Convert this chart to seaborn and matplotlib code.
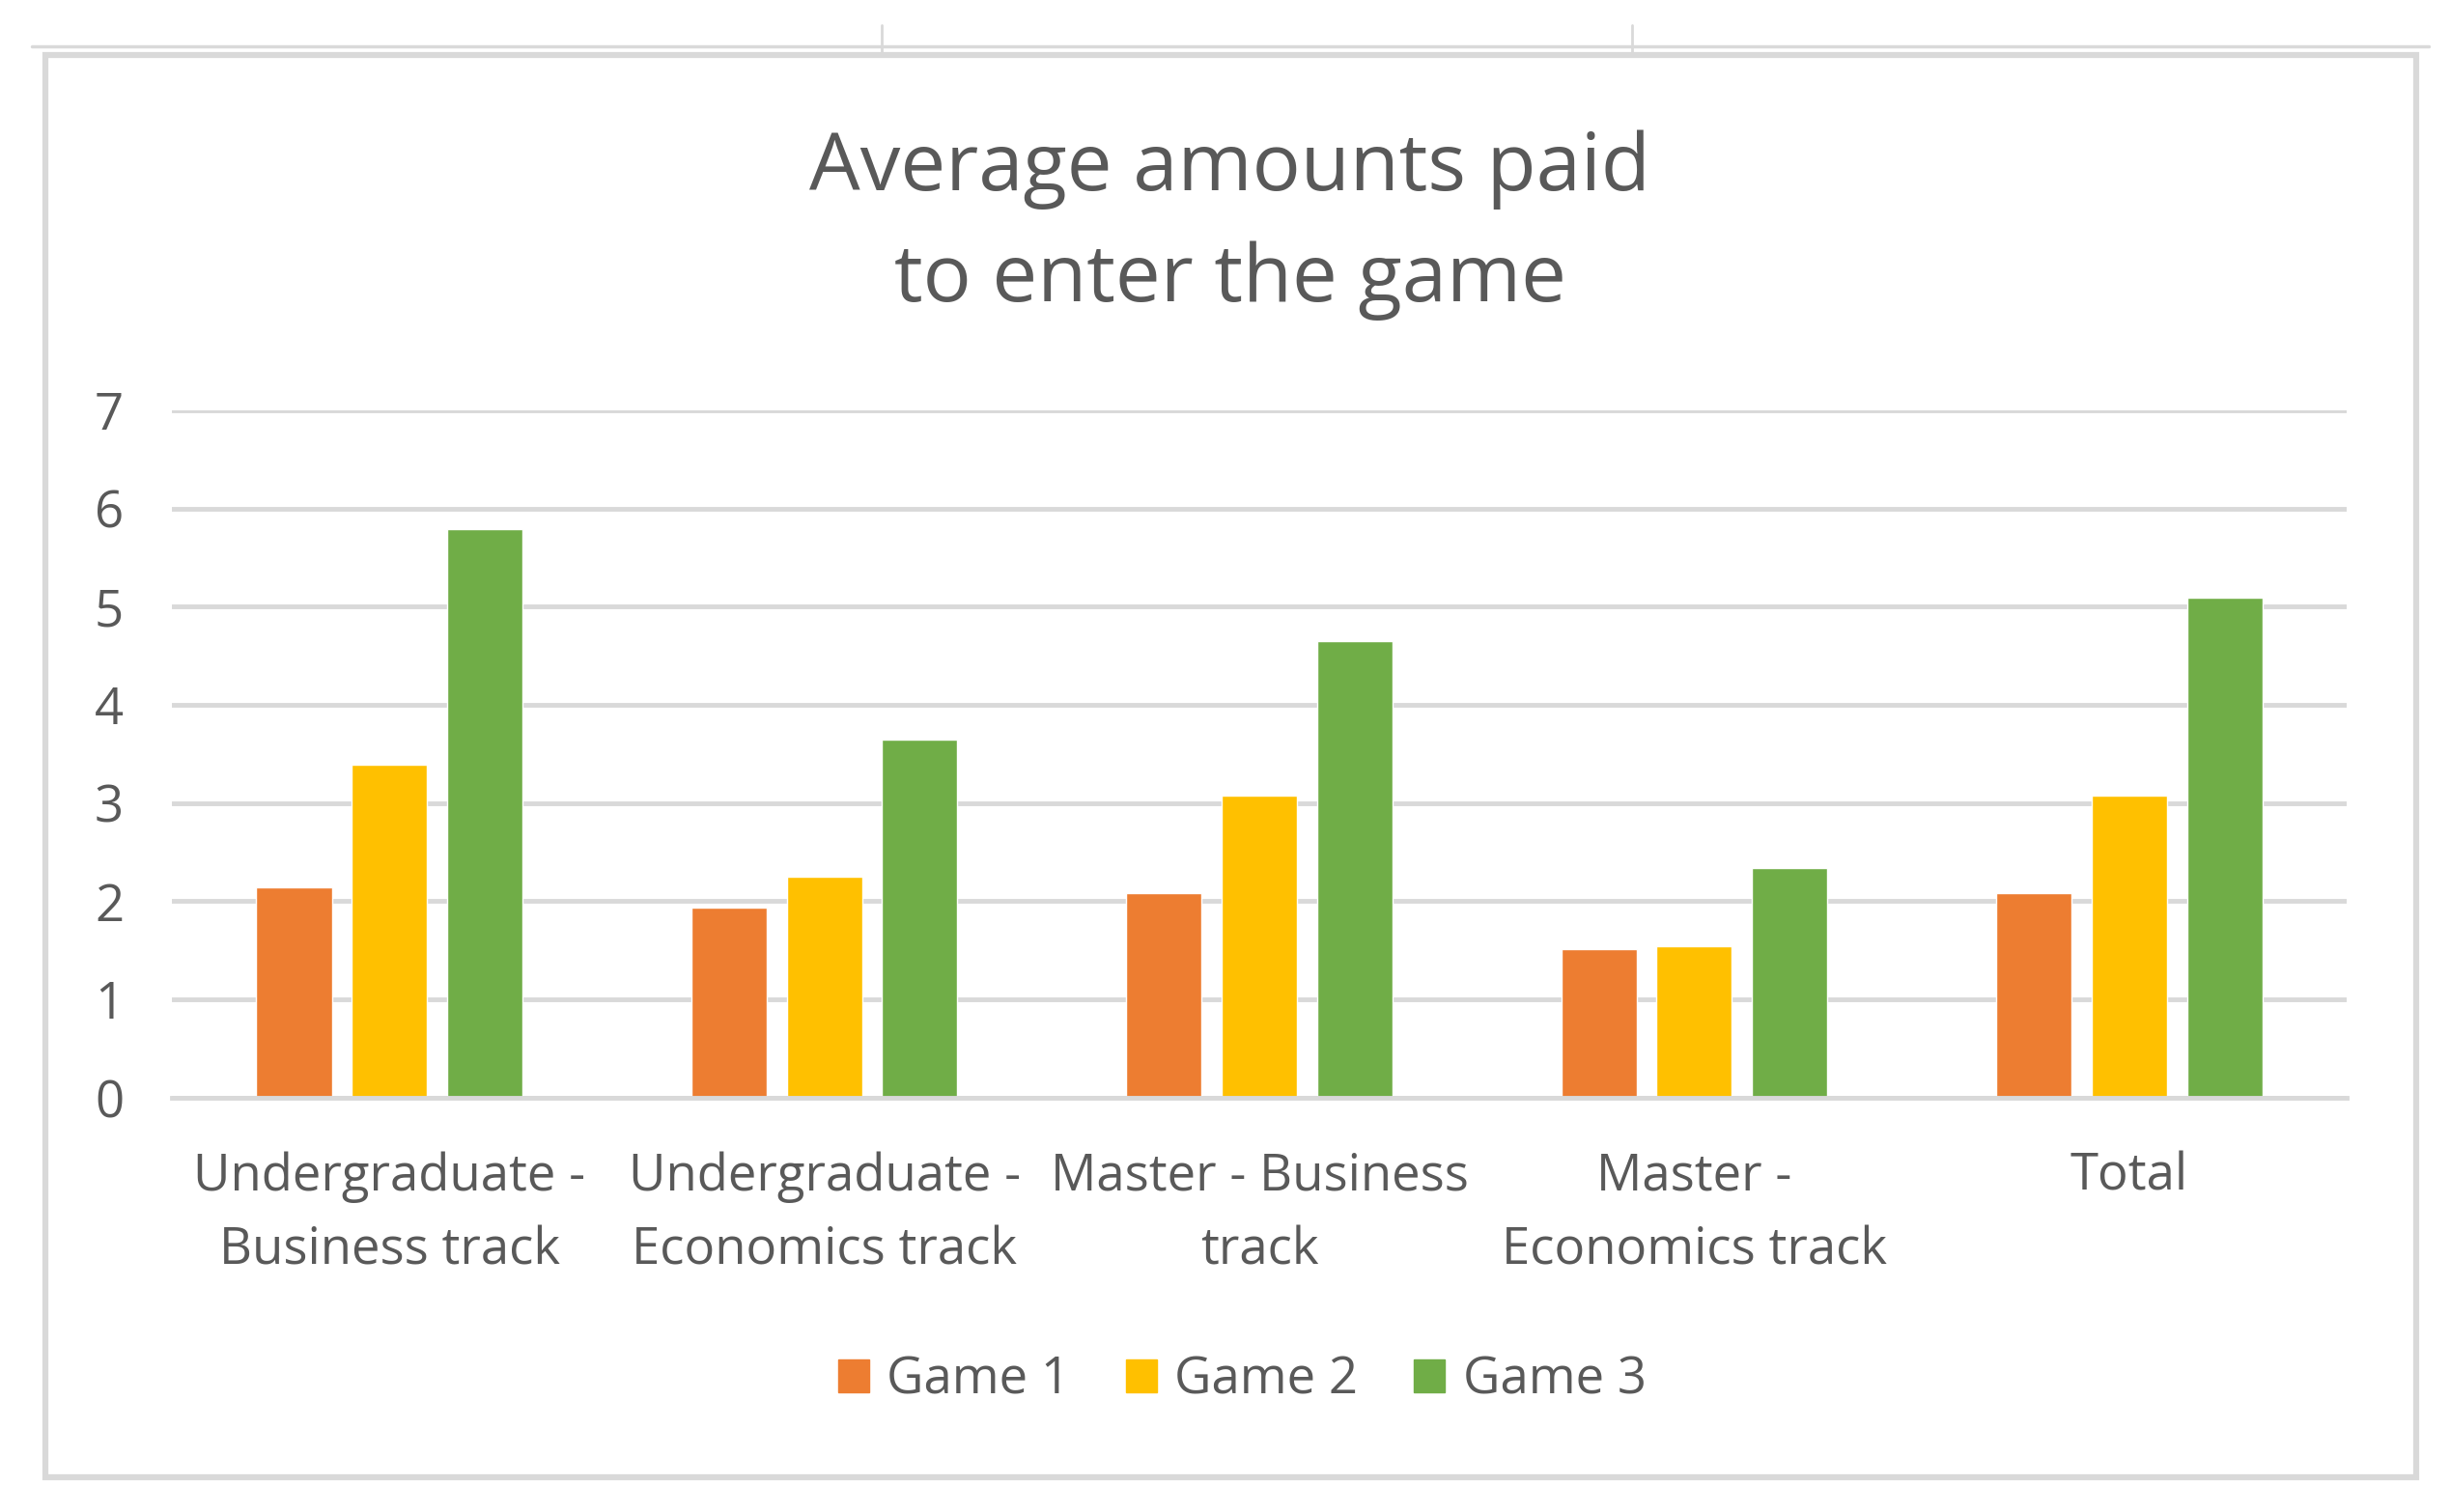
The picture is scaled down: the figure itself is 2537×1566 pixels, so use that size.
import matplotlib.pyplot as plt
import matplotlib.patches as mpatches
from matplotlib.lines import Line2D
import pandas as pd
import seaborn as sns

categories = ["Undergraduate -\nBusiness track", "Undergraduate -\nEconomics track",
              "Master - Business\ntrack", "Master -\nEconomics track", "Total"]
games = ["Game 1", "Game 2", "Game 3"]
game1 = [2.14, 1.94, 2.08, 1.51, 2.08]
game2 = [3.39, 2.25, 3.08, 1.54, 3.08]
game3 = [5.79, 3.65, 4.65, 2.34, 5.09]
colors = ["#ED7D31", "#FFC000", "#70AD47"]

rows = []
for game, values in zip(games, [game1, game2, game3]):
    for cat, v in zip(categories, values):
        rows.append({"category": cat, "game": game, "value": v})
df = pd.DataFrame(rows)

sns.set_style("white")
plt.rcParams["font.family"] = ["Open Sans", "DejaVu Sans"]
text_color = "#595959"
grid_color = "#d9d9d9"

W, H = 2537, 1566
fig = plt.figure(figsize=(W / 100, H / 100), dpi=100)

# chart area frame, as in the spreadsheet screenshot
frame = mpatches.Rectangle((47 / W, 1 - 1530 / H), (2502 - 47) / W, (1530 - 57) / H,
                           transform=fig.transFigure, fill=False, edgecolor=grid_color, linewidth=4.5)
fig.patches.append(frame)
fig.add_artist(Line2D([33 / W, 2515 / W], [1 - 48 / H, 1 - 48 / H], color=grid_color, linewidth=2.5))
for xv in [913, 1690]:
    fig.add_artist(Line2D([xv / W, xv / W], [1 - 26 / H, 1 - 54 / H], color=grid_color, linewidth=2))

ax = fig.add_axes([0.0702, 0.274, 0.8876, 0.4547])
sns.barplot(data=df, x="category", y="value", hue="game", palette=colors,
            width=0.658, gap=0.21, ax=ax, legend=False, saturation=1)

ax.set_ylim(0, 7)
ax.set_xlim(-0.5, 4.5)
ax.set_yticks(range(0, 8))
ax.yaxis.grid(True, color=grid_color, linewidth=3.5)
ax.set_axisbelow(True)
for side in ["top", "right", "left"]:
    ax.spines[side].set_visible(False)
ax.spines["bottom"].set_color(grid_color)
ax.spines["bottom"].set_linewidth(3.5)
ax.tick_params(axis="both", length=0, labelsize=38, colors=text_color)
ax.tick_params(axis="y", pad=36)
ax.tick_params(axis="x", pad=40)
ax.set_xlabel("")
ax.set_ylabel("")
for lbl in ax.get_xticklabels():
    lbl.set_linespacing(1.57)

fig.text(0.502, 0.851, "Average amounts paid\nto enter the game", ha="center", va="center",
         fontsize=60, color=text_color, linespacing=1.53)

handles = [mpatches.Patch(color=c, label=g) for c, g in zip(colors, games)]
fig.legend(handles=handles, loc="center", bbox_to_anchor=(0.507, 0.087), ncol=3,
           frameon=False, fontsize=38, labelcolor=text_color, handlelength=0.6,
           handleheight=0.6, handletextpad=0.35, columnspacing=1.1)

fig.savefig("out.png", dpi=100, facecolor="white")
